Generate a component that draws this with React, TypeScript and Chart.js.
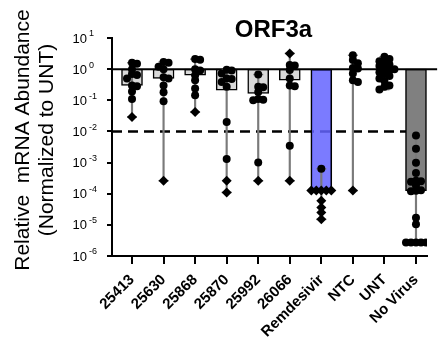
import React, { useEffect, useRef } from 'react';
import { Chart, registerables } from 'chart.js';

Chart.register(...registerables);

// ---------- data ----------
const chartTitle = 'ORF3a';
const yAxisTitle = ['Relative  mRNA Abundance', '(Normalized to UNT)'];
const categories = ['25413', '25630', '25868', '25870', '25992', '26066', 'Remdesivir', 'NTC', 'UNT', 'No Virus'];
const yTickExponents = [-6, -5, -4, -3, -2, -1, 0, 1];
const barValues = [0.30, 0.50, 0.64, 0.21, 0.165, 0.44, 1.26e-4, 1, 1, 1.26e-4];
const circleValues: number[][] = [
  [1.6, 1.5, 1.0, 0.7, 0.65, 0.5, 0.3, 0.28, 0.19, 0.11],
  [1.7, 1.6, 1.2, 1.0, 0.55, 0.5, 0.3, 0.18, 0.093],
  [2.1, 2.0, 1.0, 0.9, 0.64, 0.44, 0.24, 0.145],
  [0.95, 0.9, 0.72, 0.5, 0.48, 0.39, 0.27, 0.02, 1.3e-3],
  [0.67, 0.27, 0.26, 0.185, 0.11, 0.105, 0.1, 1e-3],
  [1.35, 1.3, 0.93, 0.5, 0.3, 0.28, 3.5e-3],
  [6.3e-4],
  [2.8, 1.95, 1.55, 1.08, 1.05, 0.73, 0.44, 0.39],
  [2.5, 2.1, 1.8, 1.6, 1.4, 1.25, 1.1, 1.0, 0.9, 0.8, 0.7, 0.6, 0.5, 0.42, 0.3, 0.27, 0.22],
  [7.4e-3, 2.8e-3, 9.8e-4, 4.6e-4, 2.6e-4, 2.5e-4, 2.4e-4, 1.8e-4, 1.3e-4, 1.25e-4, 1.2e-4, 1.7e-5, 1.05e-5, 2.7e-6, 2.7e-6, 2.7e-6, 2.7e-6, 2.7e-6],
];
const diamondValues: number[][] = [
  [0.029],
  [2.6e-4],
  [0.042],
  [2.6e-4, 1.1e-4],
  [2.6e-4],
  [3.2, 2.6e-4],
  [1.26e-4, 1.26e-4, 1.26e-4, 1.26e-4, 1.26e-4, 5.9e-5, 3.6e-5, 2.5e-5, 1.5e-5],
  [1.26e-4],
  [],
  [],
];
const solidLevel = 1;
const dashedLevel = 0.01;

// ---------- styling ----------
const FONT = '"Liberation Sans", Arial, sans-serif';
const barFill = (name: string) =>
  name === 'Remdesivir' ? 'rgba(100,100,255,0.85)' : name === 'No Virus' ? '#808080' : '#d9d9d9';
const X_MIN = -0.634;
const X_MAX = 9.349;

// simple beeswarm spread (approximate pixel units for collision)
const PX_PER_CAT = 31.56;
const PX_PER_DEC = 31.1;
const STEP = 5;
const MIN_D = 4.8;

function buildSwarm() {
  const circles: { x: number; y: number }[] = [];
  const diamonds: { x: number; y: number }[] = [];
  categories.forEach((_, i) => {
    const pts = [
      ...circleValues[i].map((v) => ({ v, d: false })),
      ...diamondValues[i].map((v) => ({ v, d: true })),
    ].sort((a, b) => b.v - a.v);
    const placed: { px: number; py: number }[] = [];
    pts.forEach((p) => {
      const py = Math.log10(p.v) * PX_PER_DEC;
      let chosen = 0;
      let bestD = -1;
      for (const k of [0, 1, -1, 2, -2]) {
        const px = k * STEP;
        let md = Infinity;
        placed.forEach((q) => {
          md = Math.min(md, Math.hypot(q.px - px, q.py - py));
        });
        if (md >= MIN_D) {
          chosen = px;
          bestD = Infinity;
          break;
        }
        if (md > bestD) {
          bestD = md;
          chosen = px;
        }
      }
      placed.push({ px: chosen, py });
      const pt = { x: i + chosen / PX_PER_CAT, y: p.v };
      (p.d ? diamonds : circles).push(pt);
    });
  });
  return { circles, diamonds };
}

const decorPlugin = {
  id: 'decor',
  afterDraw(chart: any) {
    const { ctx, chartArea, scales } = chart;
    const y = scales.y;
    ctx.save();
    ctx.fillStyle = '#000';
    ctx.textBaseline = 'middle';
    // y tick labels: 10 with superscript exponent
    y.ticks.forEach((t: any) => {
      const py = y.getPixelForValue(t.value);
      const exp = Math.round(Math.log10(t.value));
      ctx.font = `13px ${FONT}`;
      ctx.textAlign = 'right';
      ctx.fillText('10', y.right - 25, py + 1);
      ctx.font = `9px ${FONT}`;
      ctx.textAlign = 'left';
      ctx.fillText(exp < 0 ? '-' + -exp : String(exp), y.right - 23, py - 4);
    });
    // chart title
    ctx.font = `bold 24px ${FONT}`;
    ctx.textAlign = 'center';
    ctx.fillText(chartTitle, (chartArea.left + chartArea.right) / 2 + 4, chartArea.top - 8);
    // y axis title (two rotated lines)
    ctx.font = `21px ${FONT}`;
    const midY = (chartArea.top + chartArea.bottom) / 2 - 7;
    yAxisTitle.forEach((line, k) => {
      ctx.save();
      ctx.translate(y.left + 23 + k * 24, midY);
      ctx.rotate(-Math.PI / 2);
      ctx.textAlign = 'center';
      ctx.fillText(line, 0, 0);
      ctx.restore();
    });
    ctx.restore();
  },
};

export default function App() {
  const ref = useRef<HTMLCanvasElement | null>(null);

  useEffect(() => {
    if (!ref.current) return;
    const { circles, diamonds } = buildSwarm();
    const allVals = categories.map((_, i) => [...circleValues[i], ...diamondValues[i]]);
    const mins = allVals.map((a) => Math.min(...a));
    const maxs = allVals.map((a) => Math.max(...a));

    const chart = new Chart(ref.current, {
      type: 'bar',
      data: {
        datasets: [
          {
            type: 'scatter',
            label: 'circles',
            data: circles,
            pointStyle: 'circle',
            pointRadius: 4,
            backgroundColor: '#000',
            borderColor: '#000',
            borderWidth: 0,
            order: 0,
          } as any,
          {
            type: 'scatter',
            label: 'diamonds',
            data: diamonds,
            pointStyle: 'rectRot',
            pointRadius: 5,
            backgroundColor: '#000',
            borderColor: '#000',
            borderWidth: 0,
            order: 0,
          } as any,
          {
            type: 'scatter',
            label: 'caps',
            data: [
              ...categories.map((_, i) => ({ x: i, y: maxs[i] })),
              ...categories.map((_, i) => ({ x: i, y: mins[i] })),
            ],
            pointStyle: 'line',
            pointRadius: 5,
            borderColor: '#7a7a7a',
            borderWidth: 1.5,
            order: 1,
          } as any,
          {
            type: 'bar',
            label: 'range',
            data: categories.map((_, i) => ({ x: i, y: [mins[i], maxs[i]] })),
            backgroundColor: '#7a7a7a',
            borderWidth: 0,
            barThickness: 1.5,
            grouped: false,
            order: 2,
          } as any,
          {
            type: 'line',
            label: 'solid',
            data: [
              { x: X_MIN, y: solidLevel },
              { x: 9.67, y: solidLevel },
            ],
            borderColor: '#000',
            borderWidth: 2,
            pointRadius: 0,
            clip: false,
            order: 1,
          } as any,
          {
            type: 'bar',
            label: 'bars',
            data: categories.map((c, i) => ({ x: i, y: [solidLevel, barValues[i]] })),
            backgroundColor: categories.map(barFill),
            borderColor: '#000',
            borderWidth: 1.5,
            borderSkipped: false,
            barThickness: 21,
            grouped: false,
            order: 3,
          } as any,
          {
            type: 'line',
            label: 'dashed',
            data: [
              { x: X_MIN, y: dashedLevel },
              { x: 9.4, y: dashedLevel },
            ],
            borderColor: '#000',
            borderWidth: 2.5,
            borderDash: [10, 6],
            pointRadius: 0,
            clip: false,
            order: 4,
          } as any,
        ],
      },
      options: {
        animation: false,
        responsive: false,
        events: [],
        layout: { padding: { top: 38, right: 14, left: 0, bottom: 0 } },
        plugins: {
          legend: { display: false },
          tooltip: { enabled: false },
          title: { display: false },
        },
        scales: {
          x: {
            type: 'linear',
            min: X_MIN,
            max: X_MAX,
            offset: false,
            afterBuildTicks: (s: any) => {
              s.ticks = categories.map((_, i) => ({ value: i }));
            },
            afterFit: (s: any) => {
              s.height = 82;
            },
            ticks: {
              autoSkip: false,
              minRotation: 45,
              maxRotation: 45,
              padding: 7,
              color: '#000',
              font: { family: FONT, size: 15, weight: 'bold' },
              callback: (v: any) => categories[v as number] ?? '',
            },
            grid: {
              offset: false,
              drawOnChartArea: false,
              drawTicks: true,
              tickLength: 8,
              lineWidth: 2,
              color: '#000',
            },
            border: { display: true, color: '#000', width: 2 },
          },
          y: {
            type: 'logarithmic',
            min: 1e-6,
            max: 10,
            afterBuildTicks: (s: any) => {
              s.ticks = yTickExponents.map((e) => ({ value: Math.pow(10, e) }));
            },
            afterFit: (s: any) => {
              s.width = 112;
            },
            ticks: { display: false },
            grid: {
              drawOnChartArea: false,
              drawTicks: true,
              tickLength: 5,
              lineWidth: 2,
              color: '#000',
            },
            border: { display: true, color: '#000', width: 2 },
            title: { display: false },
          },
        },
      } as any,
      plugins: [decorPlugin],
    });
    return () => chart.destroy();
  }, []);

  return (
    <div style={{ position: 'fixed', left: 0, top: 0, width: 441, height: 338, background: '#fff' }}>
      <canvas ref={ref} width={441} height={338} style={{ display: 'block', width: 441, height: 338 }} />
    </div>
  );
}
